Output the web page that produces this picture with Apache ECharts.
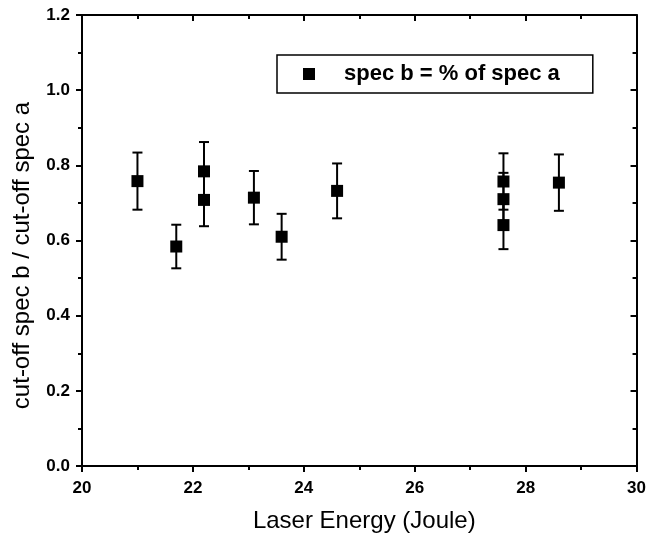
<!DOCTYPE html>
<html>
<head>
<meta charset="utf-8">
<script src="https://cdn.jsdelivr.net/npm/echarts@6/dist/echarts.min.js"></script>
<style>
  html, body { margin: 0; padding: 0; background: #fff; }
  #chart { width: 649px; height: 538px; }
</style>
</head>
<body>
<div id="chart"></div>
<script>
// laser energy (Joule) for each shot
var energy = [21.0, 21.7, 22.2, 22.2, 23.1, 23.6, 24.6, 27.6, 27.6, 27.6, 28.6]
// cut-off ratio spec b / spec a
var ratio = [0.758, 0.584, 0.784, 0.708, 0.714, 0.610, 0.732, 0.757, 0.710, 0.641, 0.754]
// half length of error bars
var errs = [0.076, 0.058, 0.078, 0.070, 0.071, 0.061, 0.073, 0.075, 0.070, 0.064, 0.075]
var seriesName = 'spec b = % of spec a'

var FONT = '"Liberation Sans", Arial, sans-serif'

var points = energy.map(function(x, i) { return [x, ratio[i]] })
var bars = energy.map(function(x, i) { return [x, ratio[i] - errs[i], ratio[i] + errs[i]] })

var lineStyle = { color: '#000', width: 2 }

function baseAxis(pos, inside) {
  return {
    position: pos,
    axisLine: { show: true, onZero: false, lineStyle: lineStyle },
    axisTick: { show: true, inside: inside, length: 6, lineStyle: { width: 2, color: '#000' } },
    minorTick: { show: true, splitNumber: 2, length: 4, lineStyle: { width: 2, color: '#000' } },
    splitLine: { show: false },
    minorSplitLine: { show: false }
  }
}

var xBottom = Object.assign(baseAxis('bottom', false), {
  type: 'value', min: 20, max: 30, interval: 2,
  axisLabel: { color: '#000', fontFamily: FONT, fontWeight: 'bold', fontSize: 17, margin: 14 },
  name: 'Laser Energy (Joule)',
  nameLocation: 'middle',
  nameGap: 43,
  nameTextStyle: { color: '#000', fontFamily: FONT, fontSize: 24, padding: [0, 0, 0, 10] }
})
var xTop = Object.assign(baseAxis('top', true), {
  type: 'value', min: 20, max: 30, interval: 2,
  axisLabel: { show: false }
})
var yLeft = Object.assign(baseAxis('left', false), {
  type: 'value', min: 0, max: 1.2, interval: 0.2,
  axisLabel: {
    color: '#000', fontFamily: FONT, fontWeight: 'bold', fontSize: 17, margin: 12,
    formatter: function(v) { return v.toFixed(1) }
  },
  name: 'cut-off spec b / cut-off spec a',
  nameLocation: 'middle',
  nameGap: 48,
  nameTextStyle: { color: '#000', fontFamily: FONT, fontSize: 24, padding: [0, 30, 0, 0] }
})
var yRight = Object.assign(baseAxis('right', true), {
  type: 'value', min: 0, max: 1.2, interval: 0.2,
  axisLabel: { show: false }
})

var option = {
  animation: false,
  backgroundColor: '#fff',
  grid: { left: 82, right: 10, top: 15, bottom: 72 },
  legend: {
    data: [seriesName],
    left: 277,
    top: 55,
    padding: [8, 33, 8, 26],
    borderColor: '#000',
    borderWidth: 1.5,
    icon: 'rect',
    itemWidth: 12,
    itemHeight: 12,
    itemStyle: { color: '#000', opacity: 1 },
    textStyle: { color: '#000', fontFamily: FONT, fontWeight: 'bold', fontSize: 22, padding: [0, 0, 0, 24] }
  },
  xAxis: [xBottom, xTop],
  yAxis: [yLeft, yRight],
  series: [
    {
      name: 'errorbars',
      type: 'custom',
      xAxisIndex: 0,
      yAxisIndex: 0,
      silent: true,
      renderItem: function(params, api) {
        var x = api.value(0)
        var lo = api.coord([x, api.value(1)])
        var hi = api.coord([x, api.value(2)])
        var half = 5
        var st = { stroke: '#000', lineWidth: 2 }
        return {
          type: 'group',
          children: [
            { type: 'line', shape: { x1: lo[0], y1: lo[1], x2: hi[0], y2: hi[1] }, style: st },
            { type: 'line', shape: { x1: lo[0] - half, y1: lo[1], x2: lo[0] + half, y2: lo[1] }, style: st },
            { type: 'line', shape: { x1: hi[0] - half, y1: hi[1], x2: hi[0] + half, y2: hi[1] }, style: st }
          ]
        }
      },
      encode: { x: 0, y: [1, 2] },
      data: bars,
      z: 2
    },
    {
      name: seriesName,
      type: 'scatter',
      symbol: 'rect',
      symbolSize: 12,
      itemStyle: { color: '#000', opacity: 1 },
      data: points,
      z: 3
    }
  ]
}

var myChart = echarts.init(document.getElementById('chart'))
myChart.setOption(option)
</script>
</body>
</html>
